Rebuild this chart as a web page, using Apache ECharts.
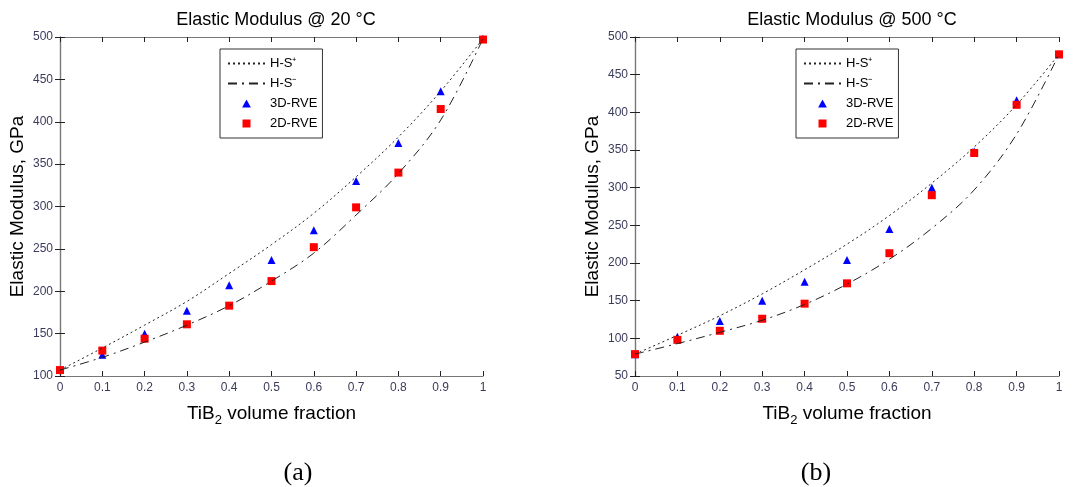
<!DOCTYPE html>
<html>
<head>
<meta charset="utf-8">
<script src="https://cdn.jsdelivr.net/npm/echarts@6/dist/echarts.min.js"></script>
<style>
  html, body { margin: 0; padding: 0; background: #fff; }
  #main { width: 1078px; height: 487px; }
</style>
</head>
<body>
<div id="main"></div>
<script>
// TiB2 volume fraction
var fractions = [0, 0.1, 0.2, 0.3, 0.4, 0.5, 0.6, 0.7, 0.8, 0.9, 1];

// (a) 20 °C
var hsUpper20 = [107, 133, 160, 188, 221, 255, 292, 335, 382, 436, 498];
var hsLower20 = [107, 122, 140, 160, 183, 212, 245, 290, 339, 402, 498];
var rve3d20 = [107, 125, 150, 177, 207, 237, 272, 330, 375, 436, 498];
var rve2d20 = [107, 130, 144, 161, 183, 212, 252, 299, 340, 415, 497];

// (b) 500 °C
var hsUpper500 = [79, 104, 130, 159, 191, 225, 263, 306, 354, 410, 477];
var hsLower500 = [79, 93, 108, 124, 145, 172, 205, 246, 297, 371, 477];
var rve3d500 = [79, 102, 123, 150, 175, 204, 245, 300, 348, 416, 477];
var rve2d500 = [79, 98, 110, 126, 146, 173, 213, 290, 346, 410, 477];

var names = ['H-S\u207A', 'H-S\u207B', '3D-RVE', '2D-RVE'];

function pts(vals) {
  return fractions.map(function (f, i) { return [f, vals[i]]; });
}

var chart = echarts.init(document.getElementById('main'));
var font = 'Liberation Sans, Arial, sans-serif';
var tickColor = '#3b3b5c';
var axisColor = '#777';

function xAxes(gi) {
  return [{
    type: 'value', gridIndex: gi, min: 0, max: 1, interval: 0.1,
    axisLine: { show: true, lineStyle: { color: axisColor, width: 1.2 } },
    axisTick: { inside: true, length: 5, lineStyle: { color: '#222' } },
    axisLabel: { color: tickColor, fontSize: 12, fontFamily: font, margin: 6 },
    splitLine: { show: false },
    name: '{a|TiB}{s|2}{a| volume fraction}',
    nameLocation: 'middle', nameGap: 24,
    nameTextStyle: {
      rich: {
        a: { fontSize: 19, fontFamily: font, color: '#000' },
        s: { fontSize: 13, fontFamily: font, color: '#000', verticalAlign: 'bottom', padding: [14, 0, 0, 0] }
      }
    }
  }, {
    type: 'value', gridIndex: gi, min: 0, max: 1, interval: 0.1, position: 'top',
    axisLine: { show: true, lineStyle: { color: axisColor, width: 1.2 } },
    axisTick: { inside: true, length: 5, lineStyle: { color: '#222' } },
    axisLabel: { show: false }, splitLine: { show: false }
  }];
}

function yAxes(gi, min) {
  return [{
    type: 'value', gridIndex: gi, min: min, max: 500, interval: 50,
    axisLine: { show: true, lineStyle: { color: axisColor, width: 1.2 } },
    axisTick: { inside: true, length: 5, lineStyle: { color: '#222' } },
    axisLabel: { color: tickColor, fontSize: 12, fontFamily: font, margin: 7 },
    splitLine: { show: false },
    name: 'Elastic Modulus, GPa', nameLocation: 'middle', nameGap: 33,
    nameTextStyle: { fontSize: 19, fontFamily: font, color: '#000' }
  }, {
    type: 'value', gridIndex: gi, min: min, max: 500, interval: 50, position: 'right',
    axisLine: { show: true, lineStyle: { color: axisColor, width: 1.2 } },
    axisTick: { inside: true, length: 5, lineStyle: { color: '#222' } },
    axisLabel: { show: false }, splitLine: { show: false }
  }];
}

function seriesFor(gi, up, low, r3, r2) {
  var xi = gi * 2, yi = gi * 2;
  return [{
    name: names[0], type: 'line', xAxisIndex: xi, yAxisIndex: yi, data: pts(up),
    smooth: 0.35, symbol: 'none', itemStyle: { color: '#222' },
    lineStyle: { color: '#222', width: 1, type: [2, 3] }
  }, {
    name: names[1], type: 'line', xAxisIndex: xi, yAxisIndex: yi, data: pts(low),
    smooth: 0.35, symbol: 'none', itemStyle: { color: '#222' },
    lineStyle: { color: '#222', width: 1, type: [9, 5, 2, 5] }
  }, {
    name: names[2], type: 'scatter', xAxisIndex: xi, yAxisIndex: yi, data: pts(r3),
    symbol: 'triangle', symbolSize: [8, 8], itemStyle: { color: '#0000ff', opacity: 1 }
  }, {
    name: names[3], type: 'scatter', xAxisIndex: xi, yAxisIndex: yi, data: pts(r2),
    symbol: 'rect', symbolSize: 8, itemStyle: { color: '#ff0000', opacity: 1 }
  }];
}

var triIcon = 'path://M0,10 L5.5,0 L11,10 Z';
var sqIcon = 'path://M0,0 L10,0 L10,10 L0,10 Z';

function legendAt(left) {
  return {
    left: left, top: 49, orient: 'vertical',
    data: [
      { name: names[0], itemStyle: { opacity: 0 } },
      { name: names[1], itemStyle: { opacity: 0 } },
      { name: names[2], icon: triIcon },
      { name: names[3], icon: sqIcon }
    ],
    itemWidth: 37, itemHeight: 8, itemGap: 7, symbolKeepAspect: true,
    padding: [8, 5, 8, 7],
    borderColor: '#333', borderWidth: 1, backgroundColor: '#fff',
    textStyle: { fontSize: 13, fontFamily: font, color: '#000' },
    selectedMode: false
  };
}

chart.setOption({
  backgroundColor: '#fff',
  animation: false,
  title: [
    { text: 'Elastic Modulus @ 20 \u00B0C', left: 271, top: 6, textAlign: 'center',
      textStyle: { fontSize: 18, fontWeight: 'normal', fontFamily: font, color: '#000' } },
    { text: 'Elastic Modulus @ 500 \u00B0C', left: 847, top: 6, textAlign: 'center',
      textStyle: { fontSize: 18, fontWeight: 'normal', fontFamily: font, color: '#000' } },
    { text: '(a)', left: 293, top: 455, textAlign: 'center',
      textStyle: { fontSize: 26, fontWeight: 'normal', fontFamily: 'Liberation Serif, serif', color: '#000' } },
    { text: '(b)', left: 811, top: 455, textAlign: 'center',
      textStyle: { fontSize: 26, fontWeight: 'normal', fontFamily: 'Liberation Serif, serif', color: '#000' } }
  ],
  legend: [legendAt(220), legendAt(796)],
  grid: [
    { left: 60, top: 37, width: 423, height: 339 },
    { left: 635, top: 37, width: 424, height: 339 }
  ],
  xAxis: xAxes(0).concat(xAxes(1)),
  yAxis: yAxes(0, 100).concat(yAxes(1, 50)),
  series: seriesFor(0, hsUpper20, hsLower20, rve3d20, rve2d20)
    .concat(seriesFor(1, hsUpper500, hsLower500, rve3d500, rve2d500))
});

window.onresize = function () { chart.resize(); };
</script>
</body>
</html>
